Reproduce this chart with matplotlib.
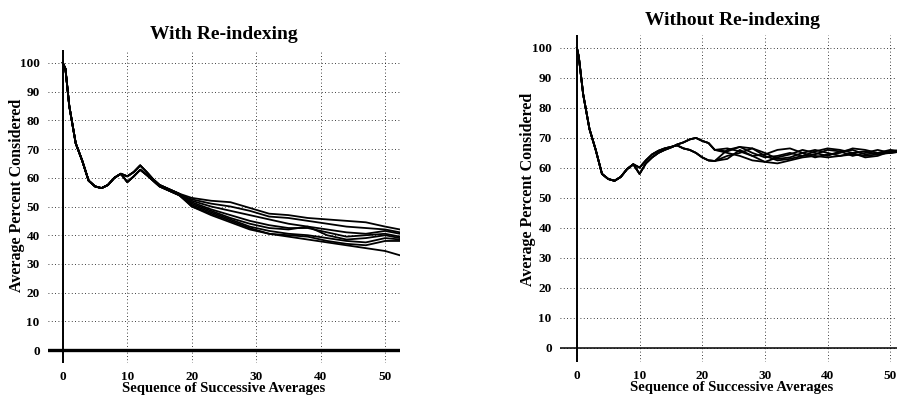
import numpy as np
import matplotlib as mpl
mpl.use("Agg")
import matplotlib.pyplot as plt

mpl.rcParams.update({
    "font.family": "Liberation Serif",
    "font.weight": "bold",
    "font.size": 9,
})

# ---- left panel: with re-indexing ----
left_head_x = [0, 0.4, 1, 2, 3, 4, 5, 6, 7, 8, 9]
left_head_y = [100, 98, 85, 72, 66, 59, 57, 56.4, 57.5, 60, 61.4]
left_mid_x = [10, 11, 12, 13, 14, 15, 16, 17, 18]
left_mid_a = [60.5, 62, 64.3, 62, 59.5, 57.5, 56.5, 55.5, 54.5]
left_mid_b = [58.5, 60.5, 62.8, 61, 59, 57, 56, 55, 54]
left_tail_x = [20, 23, 26, 29, 32, 35, 38, 41, 44, 47, 50, 52.3]
left_tails = {
    "a": [53, 52, 51.5, 49.5, 47.5, 47, 46, 45.5, 45, 44.5, 43, 42],
    "b": [52.5, 51, 50, 48.5, 46.5, 46, 45, 44, 43, 42.5, 42, 41],
    "c": [52, 50, 48.5, 47, 45.5, 44, 43, 42, 41, 40.5, 41.5, 40.5],
    "d": [51.5, 49, 47, 45, 43.5, 42.5, 42.5, 41, 39.5, 40, 40.5, 39.5],
    "e": [51, 48.5, 46, 44, 42.5, 42, 43, 40, 38.5, 39, 40, 39],
    "f": [50.5, 48, 45.5, 43, 41.5, 40.5, 40, 39, 38, 37.5, 39, 38.5],
    "g": [50, 47.5, 45, 42.5, 40.5, 40, 39.5, 38, 37, 36.5, 38, 38],
    "h": [50, 47, 44.5, 42, 40.5, 39.5, 38.5, 37.5, 36.5, 35.5, 34.5, 33],
}
left_mid_choice = {"a": "a", "b": "b", "c": "a", "d": "b",
                   "e": "a", "f": "b", "g": "a", "h": "b"}

# ---- right panel: without re-indexing ----
right_head_x = [0, 0.3, 1, 2, 3, 4, 5, 6, 7, 8, 9]
right_head_y = [100, 97, 84.5, 73, 66, 58, 56.3, 55.7, 57, 59.6, 61.2]
right_mid_x = [10, 11, 12, 13, 14, 15, 16, 17, 18, 19, 20, 21, 22]
right_mid_a = [60.1, 62.5, 64.5, 65.7, 66.5, 67, 67.5, 66.5, 66, 65, 63.5, 62.5, 62.3]
right_mid_b = [58, 61.5, 63.5, 65, 66, 66.8, 67.8, 68.5, 69.5, 70, 69, 68.3, 66]
right_tail_x = [24, 26, 28, 30, 32, 34, 36, 38, 40, 42, 44, 46, 48, 50, 52]
right_tails = {
    "s1": [63, 66, 64, 62, 61.5, 62.5, 63.5, 64, 63.5, 64, 64.5, 64, 64.5, 65, 65.5],
    "s2": [64, 65, 66.5, 65, 63, 63.5, 65, 66, 65, 64, 65, 65.5, 64.5, 65.5, 65.5],
    "s3": [66, 67, 65, 63.5, 64, 65, 64, 64.5, 66, 65.5, 64, 65, 66, 65, 66],
    "s4": [65, 64, 62.5, 62, 63.5, 64.5, 66, 65, 64, 65.5, 66, 64.5, 65, 66, 65.5],
    "s5": [66.5, 65.5, 64, 64.5, 66, 66.5, 65, 63.5, 64.5, 65, 66.5, 66, 65, 65, 65.5],
    "s6": [65.5, 67, 66.5, 64, 62.5, 63, 64, 65.5, 66.5, 66, 65, 63.5, 64, 65.5, 66],
}
right_mid_choice = {"s1": "a", "s2": "a", "s3": "a", "s4": "b", "s5": "b", "s6": "b"}

x_ticks = [0, 10, 20, 30, 40, 50]
y_ticks = [0, 10, 20, 30, 40, 50, 60, 70, 80, 90, 100]

fig = plt.figure(figsize=(8.97, 4.0), dpi=100)
ax_l = fig.add_axes([48 / 897, 1 - 363 / 400, 352 / 897, 313 / 400])
ax_r = fig.add_axes([560 / 897, 1 - 362 / 400, 344 / 897, 327 / 400])

lw = 1.3
for key, tail in left_tails.items():
    mid = left_mid_a if left_mid_choice[key] == "a" else left_mid_b
    xs = left_head_x + left_mid_x + left_tail_x
    ys = left_head_y + mid + tail
    ax_l.plot(xs, ys, color="black", lw=lw)

for key, tail in right_tails.items():
    mid = right_mid_a if right_mid_choice[key] == "a" else right_mid_b
    xs = right_head_x + right_mid_x + right_tail_x
    ys = right_head_y + mid + tail
    ax_r.plot(xs, ys, color="black", lw=lw)

ax_l.set_xlim(-2.3, 52.3)
ax_l.set_ylim(-4.5, 104.5)
ax_r.set_xlim(-2.7, 52.2)
ax_r.set_ylim(-4.7, 104.3)

ax_l.axhline(0, color="black", lw=2.4)
ax_r.axhline(0, color="black", lw=1.1)

panels = [(ax_l, "With Re-indexing", 8, -4, 0.537),
          (ax_r, "Without Re-indexing", 7, -3, 0.529)]
for axis, title, tpad, ypad, ylab_y in panels:
    axis.axvline(0, color="black", lw=1.4)
    for s in axis.spines.values():
        s.set_visible(False)
    axis.set_xticks(x_ticks)
    axis.set_yticks(y_ticks)
    axis.tick_params(length=0, pad=6, labelsize=9.5)
    axis.grid(True, color="black", lw=0.6, linestyle=(0, (1, 3)))
    axis.set_axisbelow(True)
    axis.set_title(title, fontsize=14, fontweight="bold", pad=tpad)
    axis.set_xlabel("Sequence of Successive Averages", fontsize=10.5,
                    fontweight="bold", labelpad=-1)
    axis.set_ylabel("Average Percent Considered", fontsize=11.5,
                    fontweight="bold", labelpad=ypad)
    axis.yaxis.label.set_y(ylab_y)

fig.savefig("out.png", dpi=100)
plt.close(fig)
